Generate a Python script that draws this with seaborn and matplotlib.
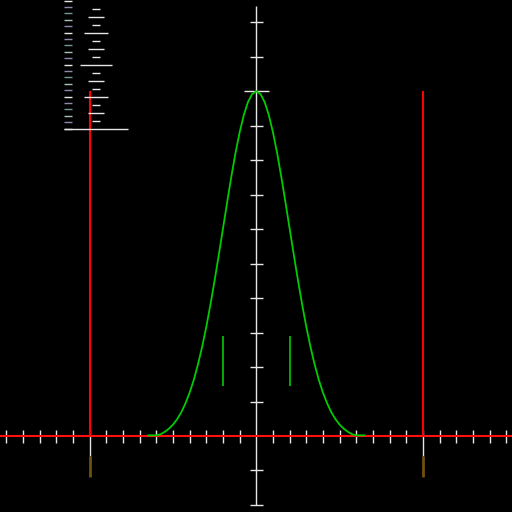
import numpy as np
import pandas as pd
import matplotlib
matplotlib.use("Agg")
import matplotlib.pyplot as plt
import seaborn as sns

# ---- data ----
# right half of the bell curve (x >= 0), mirrored for the left half
half_x = [0.0, 0.25, 0.5, 0.75, 1.0, 1.25, 1.5, 1.75, 2.0, 2.25, 2.5, 2.75, 3.0, 3.25,
          3.5, 3.75, 4.0, 4.25, 4.5, 4.75, 5.0, 5.25, 5.5, 5.75, 6.0, 6.5]
half_y = [10.0, 9.92, 9.69, 9.31, 8.81, 8.21, 7.52, 6.78, 6.02, 5.26, 4.52, 3.82, 3.17, 2.59,
          2.08, 1.63, 1.26, 0.95, 0.69, 0.49, 0.33, 0.21, 0.12, 0.05, 0.02, 0.02]
sigma_marks = [-2, 2]          # short green markers
sigma_span = [1.45, 2.9]
limit_marks = [-10, 10]        # red vertical limits
limit_height = 10
x_ticks = list(range(-15, 16))
x_major = [-10, 10]
y_ticks = list(range(-2, 13))
y_major = [10]
y_axis_span = [-2.0, 12.47]
ruler_levels = [1, 2, 1, 3, 1, 2, 1, 4, 1, 2, 1, 3, 1, 2, 1, 8]
ruler_left_count = 21
ruler_left_colors = ["#e8e8e8", "#8a8aaa", "#6f9a96", "#a8c4b8", "#8a8aaa"]

curve_x = [-v for v in half_x[::-1]] + half_x[1:]
curve_y = half_y[::-1] + half_y[1:]

# ---- figure ----
sns.set_style("dark")
W = H = 512
fig = plt.figure(figsize=(5.12, 5.12), dpi=100, facecolor="black")
ax = fig.add_axes([0, 0, 1, 1])
ax.set_facecolor("black")
ux, x0 = 16.66, 256.3
uy, y0 = 34.47, 436.0
ax.set_xlim(-x0 / ux, (W - x0) / ux)
ax.set_ylim(-(H - y0) / uy, y0 / uy)
ax.axis("off")

px = 1 / ux  # one pixel in x units
py = 1 / uy  # one pixel in y units

# x-axis ticks (white) then red axis line
for t in x_ticks:
    if t == 0:
        continue
    lo = -20 * py if t in x_major else -7 * py
    ax.vlines(t, lo, 6 * py, color="#e6e6e6", lw=1.0, zorder=2)
ax.axhline(0, color="#ff1010", lw=1.5, zorder=3)

# y-axis
ax.vlines(0, y_axis_span[0], y_axis_span[1], color="#e6e6e6", lw=1.0, zorder=2)
for t in y_ticks:
    if t == 0:
        continue
    half = 12.5 * px if t in y_major else 6.5 * px
    ax.hlines(t, -half, half, color="#e6e6e6", lw=1.0, zorder=2)

# red limit lines and olive marks below
ax.vlines(limit_marks, 0, limit_height, color="#ff0000", lw=1.5, zorder=4)
ax.vlines(limit_marks, -20 * py, -41 * py, color="#6e5010", lw=2.0, zorder=4)

# bell curve
df = pd.DataFrame({"x": curve_x, "y": curve_y})
sns.lineplot(data=df, x="x", y="y", ax=ax, color="#00cc00", lw=1.3, sort=False,
             estimator=None, zorder=5)
ax.vlines(sigma_marks, sigma_span[0], sigma_span[1], color="#00cc00", lw=1.2, zorder=5)

# ---- ruler overlay in pixel coordinates ----
ov = fig.add_axes([0, 0, 1, 1])
ov.set_xlim(0, W)
ov.set_ylim(H, 0)
ov.axis("off")
ov.patch.set_alpha(0)
for i in range(ruler_left_count):
    ov.hlines(6.4 * i + 0.5, 64, 72, color=ruler_left_colors[i % len(ruler_left_colors)], lw=1.0)
for i, lv in enumerate(ruler_levels):
    half = 4 * lv
    ov.hlines(8 * (i + 1) + 0.5, 96 - half, 96 + half, color="#e6e6e6", lw=1.0)

fig.savefig("out.png", dpi=100, facecolor="black")
